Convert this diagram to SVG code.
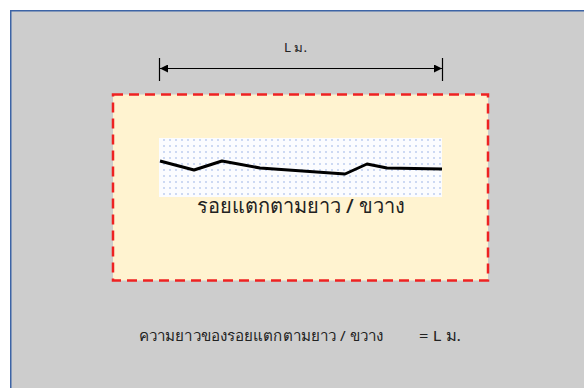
<svg xmlns="http://www.w3.org/2000/svg" width="584" height="388" viewBox="0 0 584 388">
  <defs>
    <style>
      .lbl { font-family: "Noto Sans", "DejaVu Sans", "Liberation Sans", sans-serif; fill: #222; }
    </style>
    <pattern id="dots" width="6" height="6" patternUnits="userSpaceOnUse">
      <rect width="6" height="6" fill="#fbfcff"/>
      <circle cx="2" cy="2" r="0.7" fill="#7d9de0"/>
    </pattern>
    <marker id="arrowE" viewBox="0 0 10 10" refX="10" refY="5" markerWidth="8" markerHeight="8" markerUnits="userSpaceOnUse" orient="auto">
      <path d="M0,0 L10,5 L0,10 Z" fill="#000"/>
    </marker>
    <marker id="arrowS" viewBox="0 0 10 10" refX="0" refY="5" markerWidth="8" markerHeight="8" markerUnits="userSpaceOnUse" orient="auto">
      <path d="M10,0 L0,5 L10,10 Z" fill="#000"/>
    </marker>
  </defs>

  <rect x="0" y="0" width="584" height="388" fill="#ffffff"/>
  <g id="background">
    <rect x="11" y="11" width="580" height="390" fill="#cdcdcd"/>
    <line x1="11" y1="10.75" x2="584" y2="10.75" stroke="#3d64a6" stroke-width="1.5"/>
    <line x1="10.75" y1="10" x2="10.75" y2="388" stroke="#3d64a6" stroke-width="1.5"/>
  </g>

  <g id="area">
    <rect x="113" y="94.5" width="375" height="186" fill="#fff3d0" stroke="#ee2222" stroke-width="2.5" stroke-dasharray="10,6"/>
  </g>

  <g id="crack">
    <rect x="159" y="138" width="283" height="59" fill="url(#dots)"/>
    <polyline points="160,161 194,170 222,161 260,168 345,174 367,164 387,168 442,169" fill="none" stroke="#000" stroke-width="3" stroke-linejoin="round"/>
    <text class="lbl" x="197" y="213" font-size="20" font-weight="500" textLength="208" lengthAdjust="spacingAndGlyphs">รอยแตกตามยาว / ขวาง</text>
  </g>

  <g id="connectors">
    <line x1="159.5" y1="58" x2="159.5" y2="81" stroke="#000" stroke-width="1.2"/>
    <line x1="442.5" y1="58" x2="442.5" y2="81" stroke="#000" stroke-width="1.2"/>
    <line x1="160" y1="68.5" x2="442" y2="68.5" stroke="#000" stroke-width="1.2" marker-start="url(#arrowS)" marker-end="url(#arrowE)"/>
  </g>

  <g id="dimension-label">
    <text class="lbl" x="284" y="52" font-size="12" textLength="23" lengthAdjust="spacingAndGlyphs">L ม.</text>
  </g>

  <g id="formula">
    <text class="lbl" x="139" y="341" font-size="15" textLength="244" lengthAdjust="spacingAndGlyphs">ความยาวของรอยแตกตามยาว / ขวาง</text>
    <text class="lbl" x="419" y="341" font-size="15" textLength="42" lengthAdjust="spacingAndGlyphs">= L ม.</text>
  </g>
</svg>
